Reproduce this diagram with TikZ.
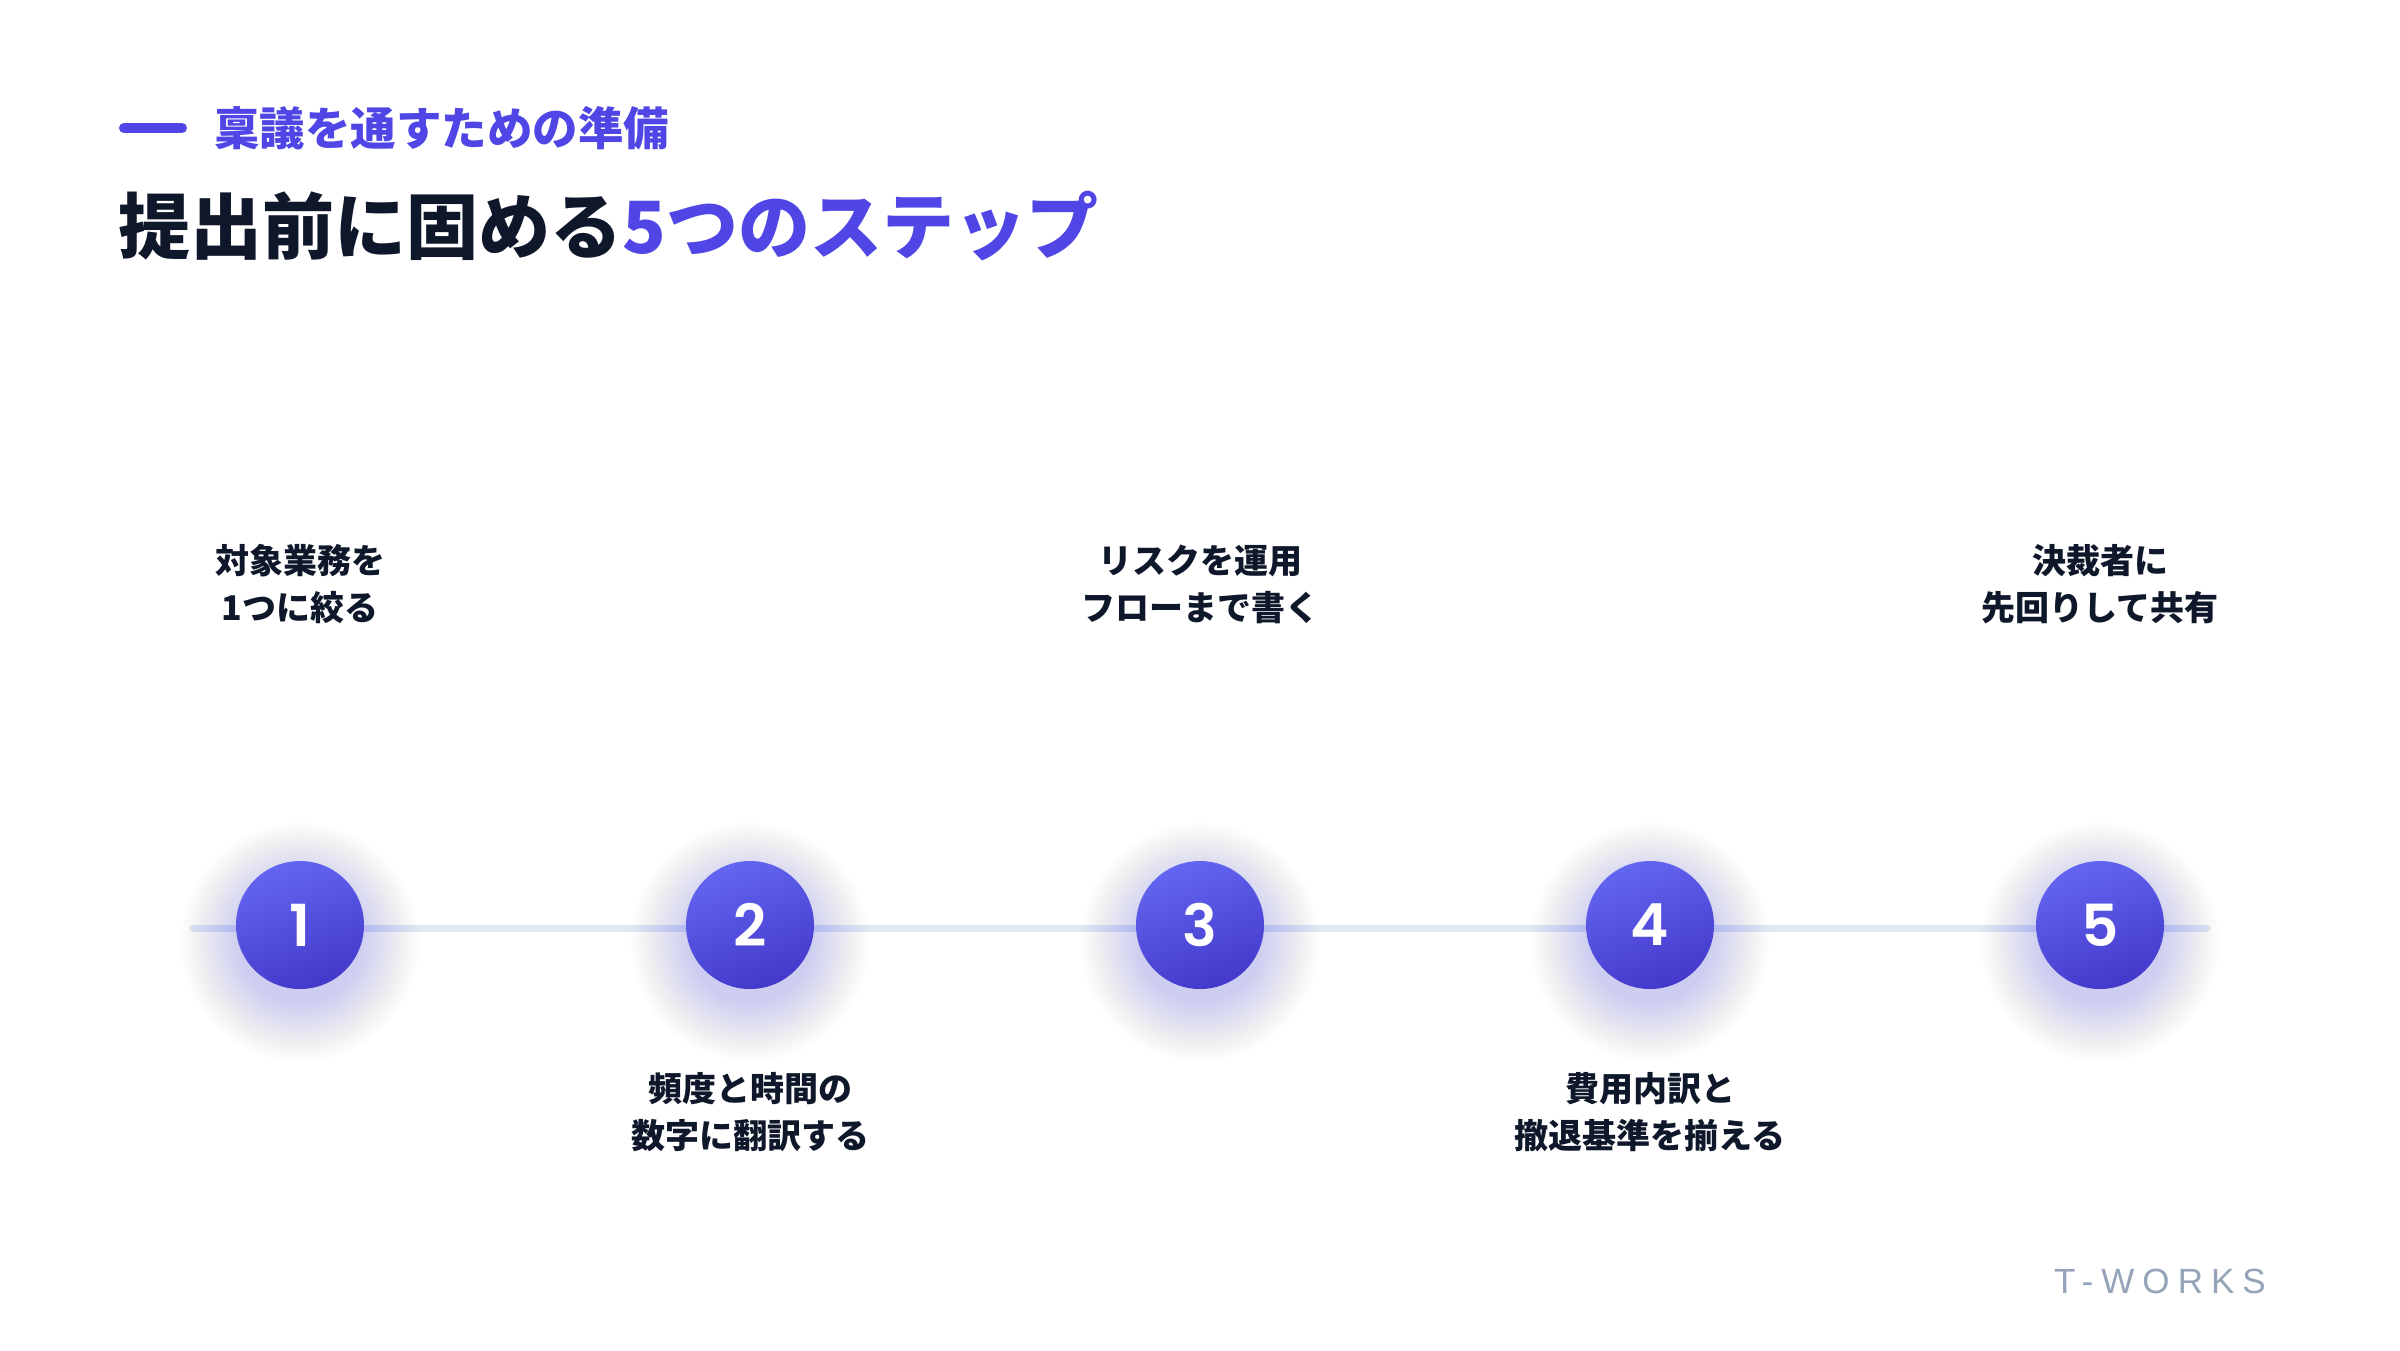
\documentclass[tikz,border=0pt]{standalone}
\usepackage{fontspec}
\newfontfamily\jp{Noto Sans CJK JP}
\newfontfamily\numfont{Poppins SemiBold}
\newfontfamily\logofont{Liberation Sans}[LetterSpace=23]
\definecolor{indigo}{HTML}{4F46E5}
\definecolor{navy}{HTML}{0F172A}
\definecolor{ctop}{HTML}{6366F1}
\definecolor{cbot}{HTML}{4338CA}
\definecolor{track}{HTML}{E2E8F0}
\definecolor{slate}{HTML}{94A3B8}
\tikzset{
  stepnode/.style={circle, minimum size=128pt, inner sep=0pt, top color=ctop, bottom color=cbot, shading angle=20, text=white, font=\numfont\fontsize{58}{58}\selectfont},
  lbl/.style={align=center, inner sep=0pt, text=navy, font=\jp\bfseries\fontsize{34}{47}\selectfont},
  timeline/.style={track, line width=7pt, line cap=round},
  accent/.style={indigo, line width=10pt, line cap=round}
}
\begin{document}
\begin{tikzpicture}[x=1pt,y=-1pt]
\useasboundingbox (0,0) rectangle (2400,1350);
\fill[white] (0,0) rectangle (2400,1350);
% header
\coordinate (bar0) at (124,128);
\coordinate (bar1) at (182,128);
\draw[accent] (bar0) -- (bar1);
\node[anchor=west, inner sep=0pt, text=indigo, font=\jp\bfseries\fontsize{45.5}{46}\selectfont] (sub) at (214,128) {稟議を通すための準備};
\node[anchor=west, inner sep=0pt, text=navy, font=\jp\bfseries\fontsize{72}{72}\selectfont] (title) at (118,226) {提出前に固める\textcolor{indigo}{5つのステップ}};
% timeline
\coordinate (tl0) at (193,928);
\coordinate (tl1) at (2207,928);
\draw[timeline] (tl0) -- (tl1);
% glow
\foreach \cx in {300,750,1200,1650,2100}{
  \foreach \i in {1,...,50}{
    \fill[ctop, opacity=0.0032] (\cx,942) circle[radius={(60+1.2*\i)*1pt}];
  }
}
% steps
\node[stepnode] (s1) at (300,925) {1};
\node[stepnode] (s2) at (750,925) {2};
\node[stepnode] (s3) at (1200,925) {3};
\node[stepnode] (s4) at (1650,925) {4};
\node[stepnode] (s5) at (2100,925) {5};
% labels
\node[lbl] (l1) at (300,584) {対象業務を\\1つに絞る};
\node[lbl] (l2) at (750,1112) {頻度と時間の\\数字に翻訳する};
\node[lbl] (l3) at (1200,584) {リスクを運用\\フローまで書く};
\node[lbl] (l4) at (1650,1112) {費用内訳と\\撤退基準を揃える};
\node[lbl] (l5) at (2100,584) {決裁者に\\先回りして共有};
% logo
\node[inner sep=0pt, text=slate, font=\logofont\fontsize{35}{35}\selectfont] (logo) at (2160,1281) {T-WORKS};
\end{tikzpicture}
\end{document}
